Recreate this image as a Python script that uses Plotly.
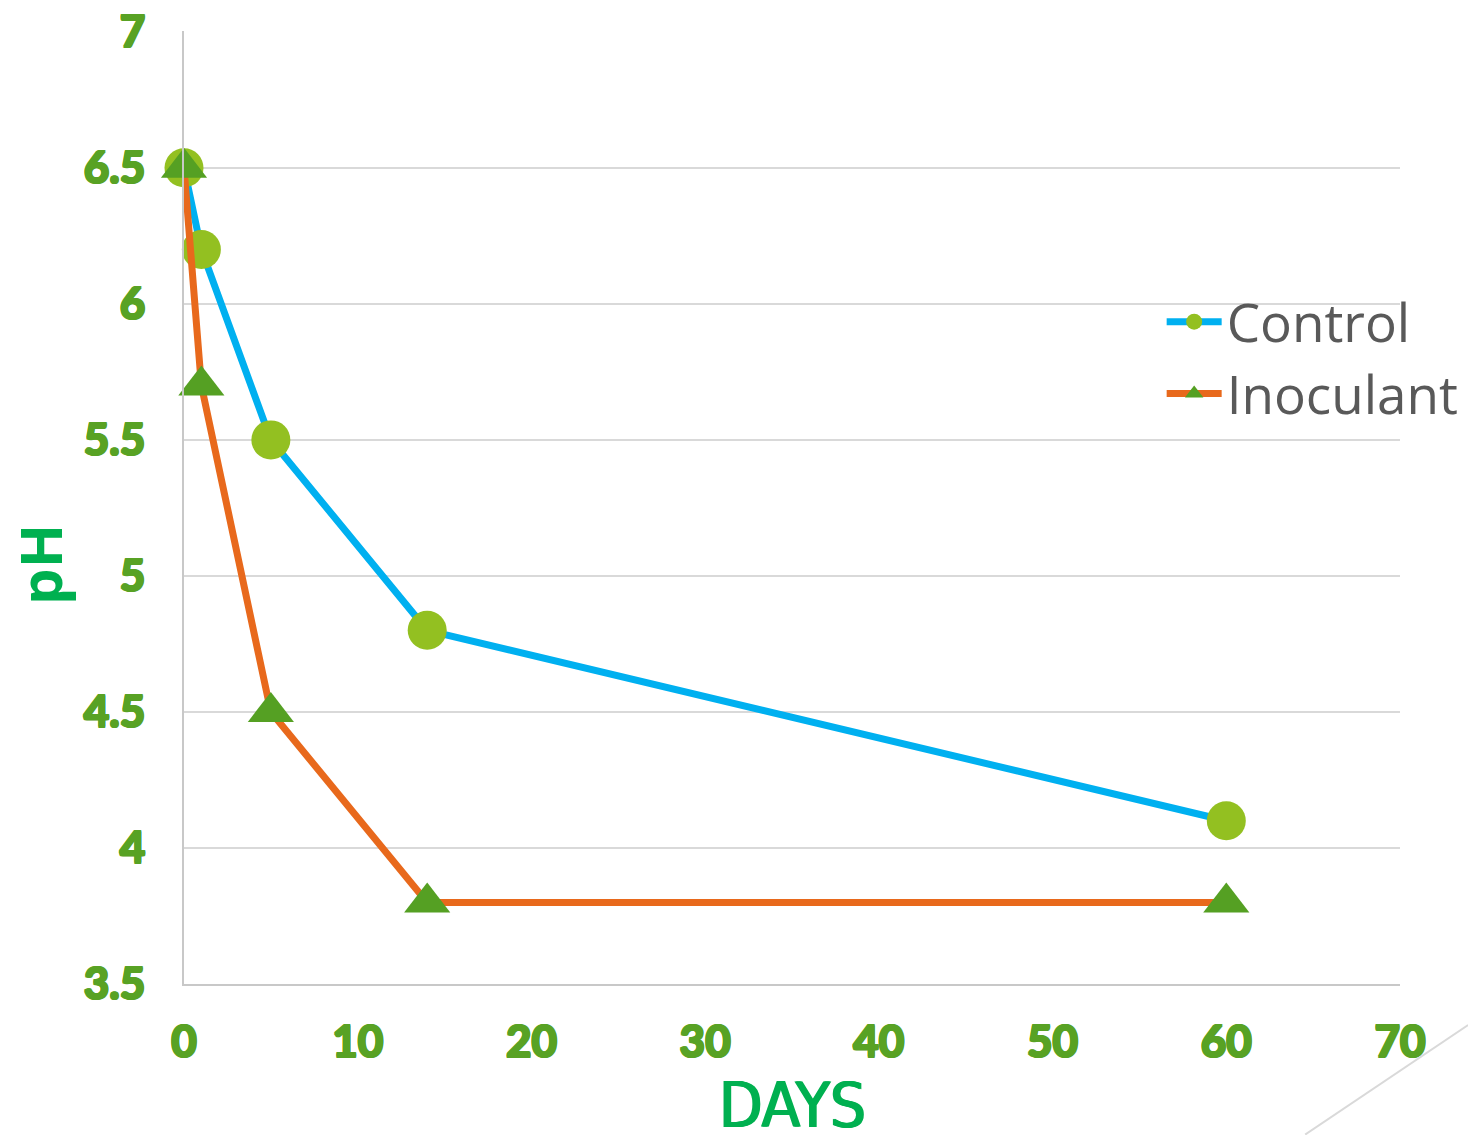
import plotly.graph_objects as go

days = [0, 1, 5, 14, 60]
control_ph = [6.5, 6.2, 5.5, 4.8, 4.1]
inoculant_ph = [6.5, 5.7, 4.5, 3.8, 3.8]
series_names = ["Control", "Inoculant"]
x_title = "DAYS"
y_title = "pH"

TICK_GREEN = "#58a224"
TITLE_GREEN = "#00b050"

fig = go.Figure()
fig.add_trace(go.Scatter(
    x=days, y=control_ph, name=series_names[0], mode="lines+markers",
    line=dict(color="#00b0f0", width=7),
    marker=dict(symbol="circle", size=39, color="#93c021"),
    cliponaxis=False,
))
fig.add_trace(go.Scatter(
    x=days, y=inoculant_ph, name=series_names[1], mode="lines+markers",
    line=dict(color="#e8691c", width=7),
    marker=dict(symbol="triangle-up", size=40, color="#55a023"),
    cliponaxis=False,
))

outline = ", ".join(f"{dx}px {dy}px 0 {TICK_GREEN}" for dx, dy in
                    [(1, 0), (-1, 0), (0, 1), (0, -1), (1, 1), (-1, -1), (1, -1), (-1, 1)])
tick_font = dict(family="Lato, 'DejaVu Sans', sans-serif", size=44, color=TICK_GREEN,
                 weight="bold", shadow=outline)
days_shadow = f"1px 0px 0 {TITLE_GREEN}, -1px 0px 0 {TITLE_GREEN}"

fig.update_layout(
    width=1468, height=1135,
    margin=dict(l=184, r=68, t=31, b=151, autoexpand=False),
    paper_bgcolor="white", plot_bgcolor="white",
    showlegend=True,
    legend=dict(
        x=0.804, y=0.738, xanchor="left", yanchor="top",
        bgcolor="rgba(0,0,0,0)",
        font=dict(family="'Open Sans', sans-serif", size=53, color="#595959"),
        itemwidth=55, tracegroupgap=16,
    ),
    xaxis=dict(
        range=[0, 70], dtick=10, tick0=0,
        showgrid=False, zeroline=False, automargin=False,
        showline=True, linecolor="#c8c8c8", linewidth=2,
        ticks="", ticklabelstandoff=18,
        tickfont=tick_font,
    ),
    yaxis=dict(
        range=[3.5, 7.003], dtick=0.5, tick0=3.5,
        showgrid=True, gridcolor="#d9d9d9", gridwidth=2,
        zeroline=False, automargin=False,
        showline=True, linecolor="#c8c8c8", linewidth=2,
        ticks="", ticklabelstandoff=28,
        tickfont=tick_font,
    ),
    annotations=[
        dict(text=y_title, xref="paper", yref="paper", x=-0.119, y=0.44,
             xanchor="center", yanchor="middle", textangle=-90, showarrow=False,
             font=dict(family="'Open Sans', sans-serif", size=58, color=TITLE_GREEN, weight="bold")),
        dict(text=x_title, xref="paper", yref="paper", x=0.5, y=-0.128,
             xanchor="center", yanchor="middle", showarrow=False,
             font=dict(family="'Liberation Sans Narrow', 'DejaVu Sans Condensed', 'Roboto Condensed', sans-serif",
                       size=63, color=TITLE_GREEN, shadow=days_shadow)),
    ],
    shapes=[
        dict(type="line", xref="paper", yref="paper",
             x0=0.922, y0=-0.158, x1=1.056, y1=-0.043,
             line=dict(color="#d9d9d9", width=2)),
    ],
)

fig.write_html("out.html", config={"displayModeBar": False})
with open("out.html", "r", encoding="utf-8") as f:
    html = f.read()
html = html.replace("<head>", "<head><style>html,body{margin:0;padding:0;overflow:hidden;}</style>", 1)
with open("out.html", "w", encoding="utf-8") as f:
    f.write(html)
